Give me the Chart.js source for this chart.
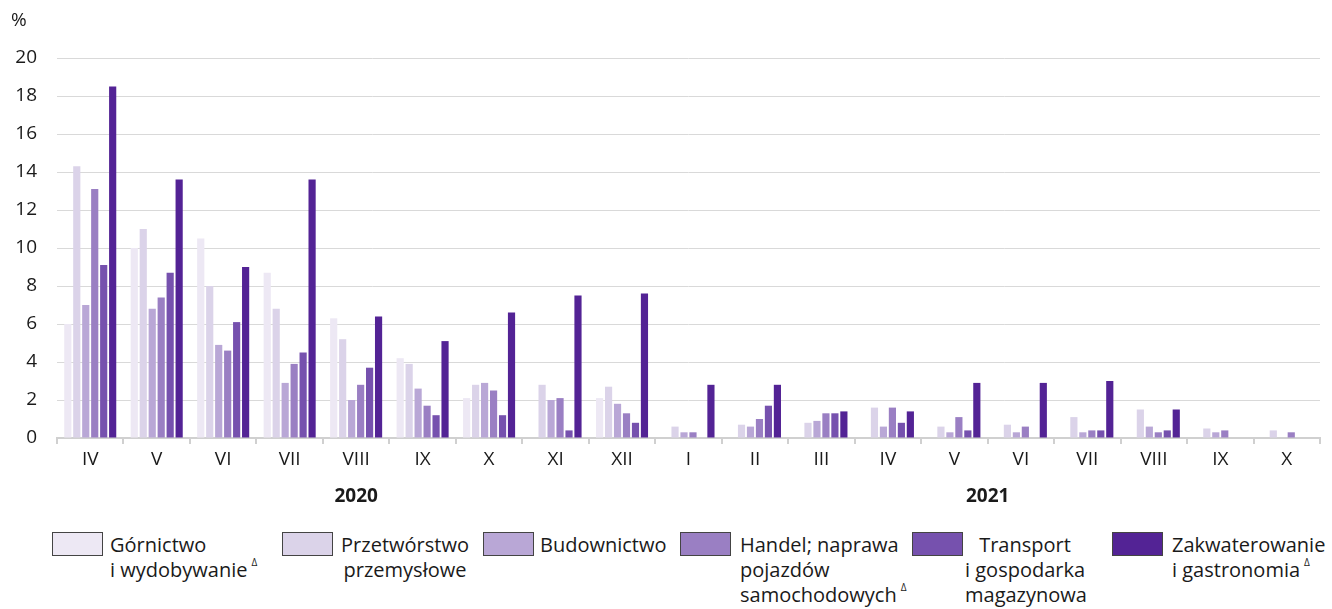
<!DOCTYPE html>
<html>
<head>
<meta charset="utf-8">
<script src="https://cdn.jsdelivr.net/npm/chart.js@4"></script>
<style>
  body { margin: 0; background: #fff; font-family: 'Open Sans', sans-serif; color: #1a1a1a; }
  #wrap { position: relative; width: 1332px; height: 609px; overflow: hidden; }
  #chartBox { position: absolute; left: 0; top: 0; width: 1332px; height: 520px; }
  .box { position: absolute; width: 51px; height: 24px; border: 1px solid #444; box-sizing: border-box; top: 532px; }
  .txt { position: absolute; top: 532px; font-size: 20px; line-height: 25px; white-space: nowrap; }
  .txt sup { font-size: 10px; line-height: 0; vertical-align: baseline; position: relative; top: -11px; margin-left: 4px; }
</style>
</head>
<body>
<div id="wrap">
  <div id="chartBox"><canvas id="myChart"></canvas></div>
  <div id="legend"></div>
</div>
<script>
'use strict';

let months = ['IV', 'V', 'VI', 'VII', 'VIII', 'IX', 'X', 'XI', 'XII', 'I', 'II', 'III', 'IV', 'V', 'VI', 'VII', 'VIII', 'IX', 'X'];
let years = ['2020', '2021'];
let yearStart = [0, 9];
let yearEnd = [8, 18];
let yTicks = [0, 2, 4, 6, 8, 10, 12, 14, 16, 18, 20];

let gornictwo = [6.0, 10.0, 10.5, 8.7, 6.3, 4.2, 2.1, null, 2.1, null, null, null, null, null, null, null, null, null, null];
let przetworstwo = [14.3, 11.0, 8.0, 6.8, 5.2, 3.9, 2.8, 2.8, 2.7, 0.6, 0.7, 0.8, 1.6, 0.6, 0.7, 1.1, 1.5, 0.5, 0.4];
let budownictwo = [7.0, 6.8, 4.9, 2.9, 2.0, 2.6, 2.9, 2.0, 1.8, 0.3, 0.6, 0.9, 0.6, 0.3, 0.3, 0.3, 0.6, 0.3, null];
let handel = [13.1, 7.4, 4.6, 3.9, 2.8, 1.7, 2.5, 2.1, 1.3, 0.3, 1.0, 1.3, 1.6, 1.1, 0.6, 0.4, 0.3, 0.4, 0.3];
let transport = [9.1, 8.7, 6.1, 4.5, 3.7, 1.2, 1.2, 0.4, 0.8, null, 1.7, 1.3, 0.8, 0.4, null, 0.4, 0.4, null, null];
let zakwaterowanie = [18.5, 13.6, 9.0, 13.6, 6.4, 5.1, 6.6, 7.5, 7.6, 2.8, 2.8, 1.4, 1.4, 2.9, 2.9, 3.0, 1.5, null, null];

let seriesData = [gornictwo, przetworstwo, budownictwo, handel, transport, zakwaterowanie];
let colors = ['#ede8f4', '#dbd3e9', '#b9a7d6', '#9a7fc3', '#7651ae', '#532395'];

// legend: box left, text left, text width, align, lines
let legendItems = [
  { box: 52, x: 110, w: 170, align: 'left', lines: ['Górnictwo', 'i wydobywanie<sup>Δ</sup>'] },
  { box: 282, x: 335, w: 140, align: 'center', lines: ['Przetwórstwo', 'przemysłowe'] },
  { box: 483, x: 540, w: 140, align: 'left', lines: ['Budownictwo'] },
  { box: 680, x: 740, w: 180, align: 'left', lines: ['Handel; naprawa', 'pojazdów', 'samochodowych<sup>Δ</sup>'] },
  { box: 912, x: 965, w: 120, align: 'center', lines: ['Transport', 'i gospodarka', 'magazynowa'] },
  { box: 1112, x: 1172, w: 160, align: 'left', lines: ['Zakwaterowanie', 'i gastronomia<sup>Δ</sup>'] },
];

function renderLegend() {
  let legend = document.getElementById('legend');
  for (let i = 0; i < legendItems.length; i++) {
    let item = legendItems[i];
    let box = document.createElement('div');
    box.className = 'box';
    box.style.left = item.box + 'px';
    box.style.background = colors[i];
    legend.appendChild(box);
    let txt = document.createElement('div');
    txt.className = 'txt';
    txt.style.left = item.x + 'px';
    txt.style.width = item.w + 'px';
    txt.style.textAlign = item.align;
    txt.innerHTML = item.lines.join('<br>');
    legend.appendChild(txt);
  }
}

const extraText = {
  id: 'extraText',
  afterDraw(chart) {
    let ctx = chart.ctx;
    let xScale = chart.scales.x;
    ctx.save();
    ctx.fillStyle = '#1a1a1a';
    ctx.font = '19px "Open Sans"';
    ctx.textAlign = 'left';
    ctx.textBaseline = 'middle';
    ctx.fillText('%', 11, 21);
    ctx.font = 'bold 19px "Open Sans"';
    ctx.textAlign = 'center';
    for (let i = 0; i < years.length; i++) {
      let x = (xScale.getPixelForValue(yearStart[i]) + xScale.getPixelForValue(yearEnd[i])) / 2;
      ctx.fillText(years[i], x, 497);
    }
    ctx.restore();
  }
};

function renderChart() {
  let datasets = [];
  for (let i = 0; i < seriesData.length; i++) {
    datasets.push({
      label: legendItems[i].lines.join(' '),
      data: seriesData[i],
      backgroundColor: colors[i],
      borderWidth: 0,
      categoryPercentage: 0.81,
      barPercentage: 0.8,
    });
  }

  const config = {
    type: 'bar',
    data: { labels: months, datasets: datasets },
    plugins: [extraText],
    options: {
      responsive: true,
      maintainAspectRatio: false,
      animation: false,
      layout: { padding: { left: 0, right: 12, top: 58, bottom: 0 } },
      plugins: { legend: { display: false }, tooltip: { enabled: false } },
      scales: {
        x: {
          grid: { display: true, drawOnChartArea: false, drawTicks: true, tickLength: 6, color: '#d0d0d0', lineWidth: 2 },
          border: { display: true, color: '#d0d0d0', width: 2 },
          ticks: { color: '#1a1a1a', font: { family: 'Open Sans', size: 19 }, padding: 4, maxRotation: 0, autoSkip: false },
          afterFit(scale) { scale.height = 82; },
        },
        y: {
          min: 0,
          max: 20,
          afterBuildTicks(scale) { scale.ticks = yTicks.map(v => ({ value: v })); },
          grid: { color: '#d9d9d9', lineWidth: 1, drawTicks: false },
          border: { display: false },
          ticks: { color: '#1a1a1a', font: { family: 'Open Sans', size: 19 }, padding: 20 },
          afterFit(scale) { scale.width = 57; },
        },
      },
    },
  };
  let chartCanvas = document.getElementById('myChart').getContext('2d');
  const myChart = new Chart(chartCanvas, config);
}

renderLegend();
renderChart();
</script>
</body>
</html>
